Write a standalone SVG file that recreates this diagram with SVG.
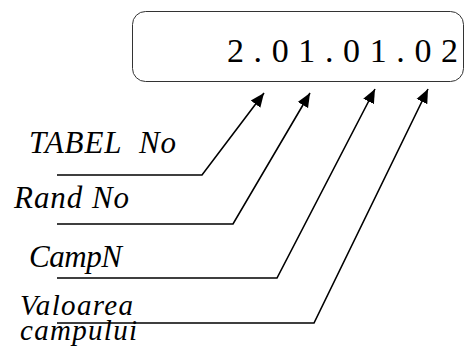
<svg xmlns="http://www.w3.org/2000/svg" width="467" height="347" viewBox="0 0 467 347">
<style>
text{font-family:"Liberation Serif","Times New Roman",serif;fill:#000}
.lbl{font-style:italic;font-size:31px}
.lbl2{font-style:italic;font-size:29px}
.code{font-size:34px}
.conn{fill:none;stroke:#000;stroke-width:1.6;marker-end:url(#ah)}
</style>
<defs>
<marker id="ah" markerUnits="userSpaceOnUse" markerWidth="16" markerHeight="14" refX="14" refY="7" orient="auto">
<path d="M0,1 L14,7 L0,13 Z" fill="#000"/>
</marker>
</defs>
<g id="code-box">
<rect x="132.5" y="11.5" width="331" height="70" rx="13" fill="#fff" stroke="#333" stroke-width="1"/>
<text class="code" x="227" y="62" textLength="231" lengthAdjust="spacing">2.01.01.02</text>
</g>
<g id="connectors">
<path class="conn" d="M57,175 H202 L264,93"/>
<path class="conn" d="M57,224 H233 L310,93"/>
<path class="conn" d="M57,278 H277 L375,89"/>
<path class="conn" d="M57,323 H314 L428,89"/>
</g>
<g id="tabel"><text class="lbl" x="29" y="153" xml:space="preserve" textLength="147">TABEL  No</text></g>
<g id="rand"><text class="lbl" x="14" y="208" textLength="115">Rand No</text></g>
<g id="camp"><text class="lbl" x="29" y="267" textLength="93">CampN</text></g>
<g id="valoarea"><text class="lbl2"><tspan x="20" y="315" textLength="113">Valoarea</tspan><tspan x="20" y="340" textLength="117">campului</tspan></text></g>
</svg>
